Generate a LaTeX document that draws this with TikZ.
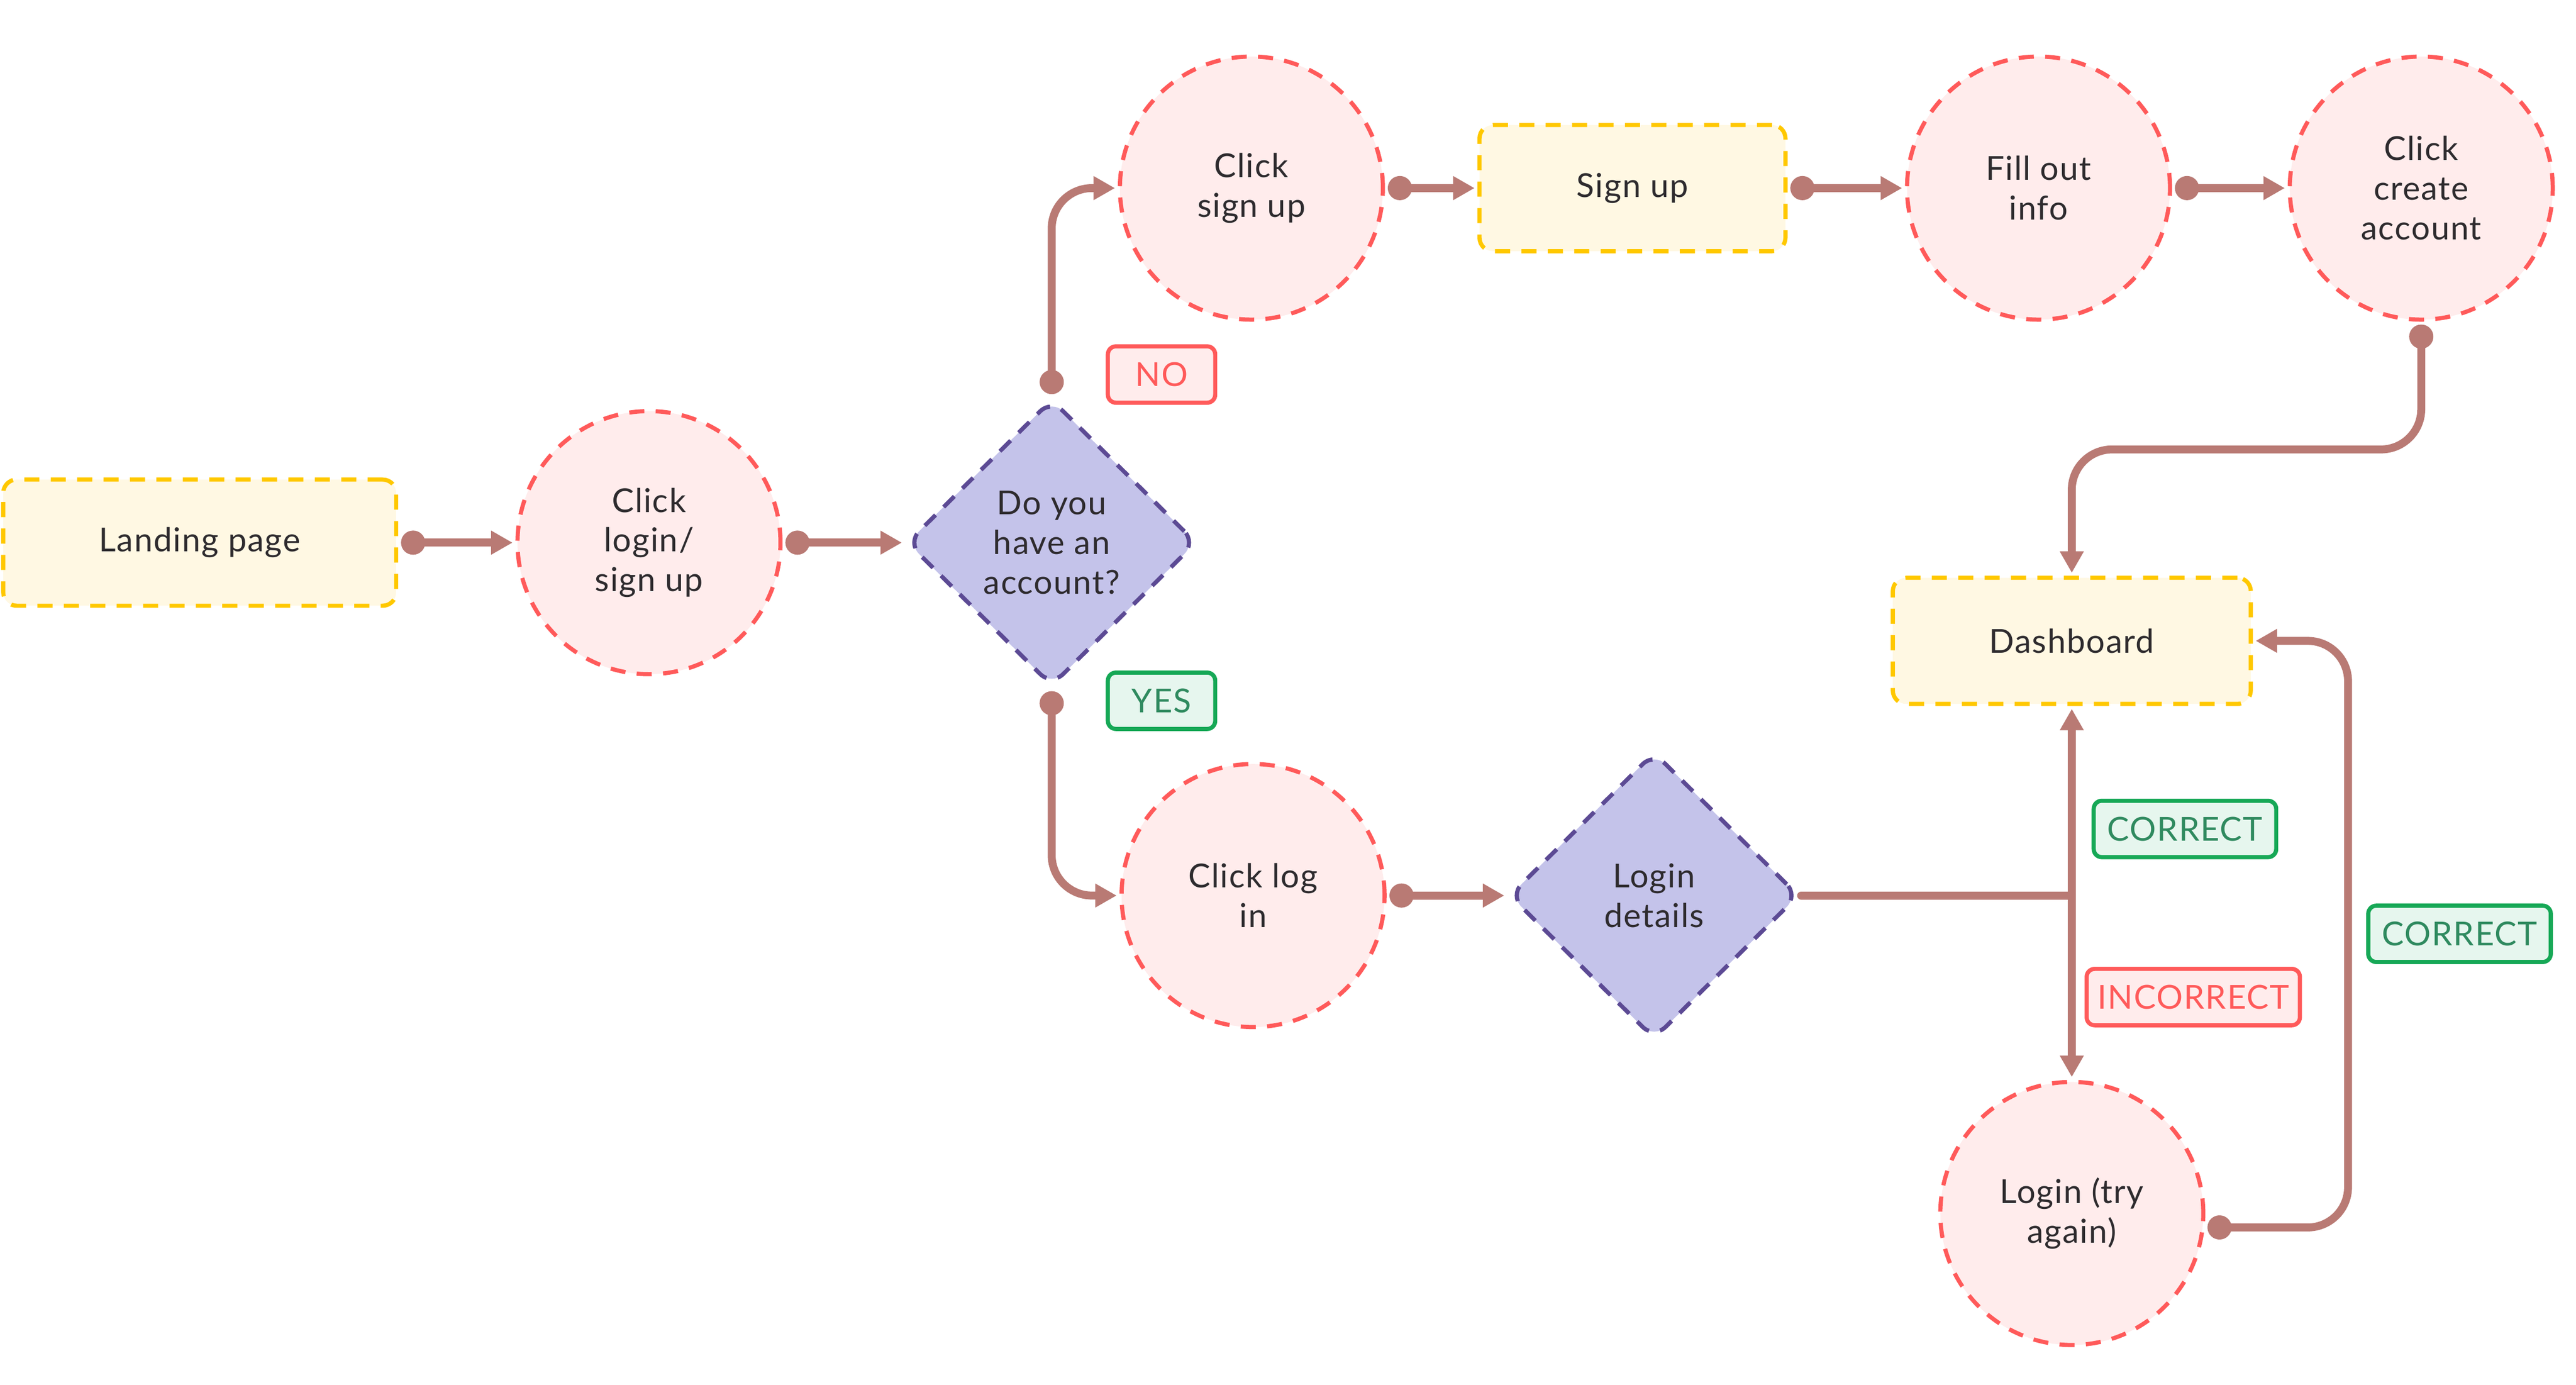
\documentclass[tikz,border=0pt]{standalone}
\usepackage{fontspec}
\setmainfont{Lato}[LetterSpace=3]
\usetikzlibrary{arrows.meta,shapes.geometric}

\definecolor{linec}{HTML}{B97A74}
\definecolor{txt}{HTML}{2E2B2E}
\definecolor{boxd}{HTML}{FFC800}
\definecolor{boxf}{HTML}{FFF8E3}
\definecolor{actd}{HTML}{FF5A5A}
\definecolor{actf}{HTML}{FFECEC}
\definecolor{askd}{HTML}{5C4A94}
\definecolor{askf}{HTML}{C4C3EA}
\definecolor{yesd}{HTML}{16A856}
\definecolor{yesf}{HTML}{E6F6EE}
\definecolor{yest}{HTML}{2F8A5F}

\begin{document}
\begin{tikzpicture}[x=0.031cm,y=-0.031cm,
  font=\fontsize{17.5}{21}\selectfont,text=txt,
  box/.style={draw=boxd,fill=boxf,line width=2.2pt,dash pattern=on 8pt off 6pt,
    rounded corners=0.25cm,minimum height=2.35cm,align=center},
  act/.style={circle,draw=actd,fill=actf,line width=2.2pt,dash pattern=on 8pt off 6pt,
    minimum size=4.9cm,inner sep=0pt,align=center},
  ask/.style={diamond,draw=askd,fill=askf,line width=2.2pt,dash pattern=on 8pt off 6pt,
    rounded corners=0.3cm,minimum width=5.4cm,minimum height=5.35cm,inner sep=0pt,align=center},
  yeslab/.style={draw=yesd,fill=yesf,text=yest,line width=2.2pt,rounded corners=0.15cm,
    minimum height=1.05cm,inner xsep=0.2cm},
  nolab/.style={draw=actd,fill=actf,text=actd,line width=2.2pt,rounded corners=0.15cm,
    minimum height=1.05cm,inner xsep=0.2cm},
  wire/.style={draw=linec,line width=4.2pt,line cap=round,rounded corners=0.75cm},
  conn/.style={wire,{Circle[length=0.45cm]}-{Triangle[length=0.4cm,width=0.42cm]},
    shorten <=1.5pt,shorten >=1.5pt},
  into/.style={wire,-{Triangle[length=0.4cm,width=0.42cm]},shorten >=1.5pt}
]
\useasboundingbox (0,0) rectangle (1548,832);

% nodes
\node[box,minimum width=7.32cm] (land) at (120,326) {Landing page};
\node[act] (clk) at (390,326) {Click\\login/\\sign up};
\node[ask] (have) at (632,326) {Do you\\have an\\account?};
\node[act] (clksu) at (752,113) {Click\\sign up};
\node[box,minimum width=5.7cm] (signup) at (981,113) {Sign up};
\node[act] (fill) at (1225,113) {Fill out\\info};
\node[act] (create) at (1455,113) {Click\\create\\account};
\node[box,minimum width=6.67cm] (dash) at (1245,385) {Dashboard};
\node[act] (clklog) at (753,538) {Click log\\in};
\node[ask] (det) at (994,538) {Login\\details};
\node[act] (retry) at (1245,729) {Login (try\\again)};

% labels
\node[nolab,minimum width=2cm] (no) at (698,225) {NO};
\node[yeslab,minimum width=2cm] (yes) at (698,421) {YES};
\node[yeslab,minimum width=3.4cm] (ok) at (1313,498) {CORRECT};
\node[nolab,minimum width=3.66cm] (bad) at (1318,599) {INCORRECT};
\node[yeslab,minimum width=3.4cm] (okk) at (1478,561) {CORRECT};

\coordinate (ctop) at (1245,270);
\coordinate (jn) at (dash.south |- det.east);
\coordinate (rtop) at (1411,385);

% connectors
\draw[conn] (land.east) -- (clk.west);
\draw[conn] (clk.east) -- (have.west);
\draw[conn] (have.north) |- (clksu.west);
\draw[conn] (have.south) |- (clklog.west);
\draw[conn] (clksu.east) -- (signup.west);
\draw[conn] (signup.east) -- (fill.west);
\draw[conn] (fill.east) -- (create.west);
\draw[conn] (create.south) |- (ctop) -- (dash.north);
\draw[conn] (clklog.east) -- (det.west);
\draw[wire] (det.east) -- (jn);
\draw[into] (jn) -- (dash.south);
\draw[into] (jn) -- (retry.north);
\draw[conn] (retry.-6) -| (rtop) -- (dash.east);
\end{tikzpicture}
\end{document}
